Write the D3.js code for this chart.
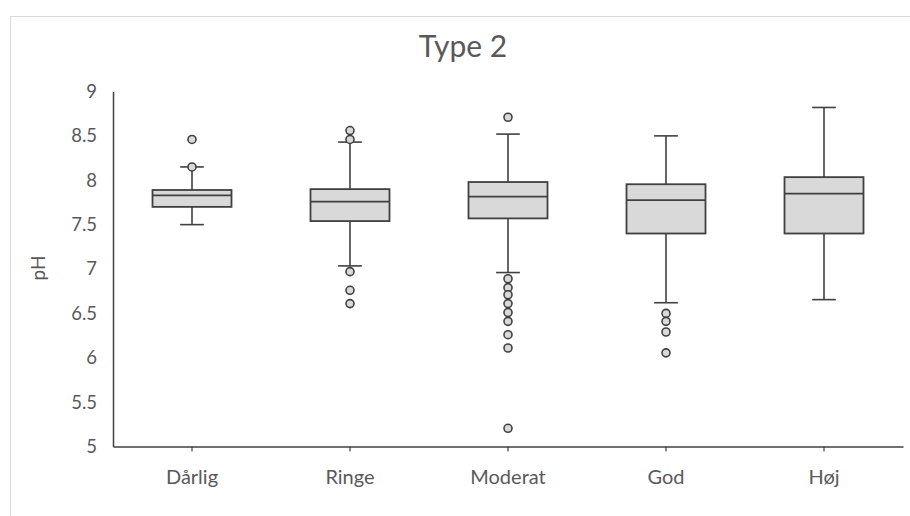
<!DOCTYPE html>
<html>
<head>
<meta charset="utf-8">
<script src="https://cdn.jsdelivr.net/npm/d3@7"></script>
<style>
  html, body { margin: 0; padding: 0; background: #fff; }
  svg { display: block; font-family: Lato, "Open Sans", sans-serif; }
</style>
</head>
<body>
<svg id="chart" width="910" height="516"></svg>
<script>
const title = "Type 2";
const yLabel = "pH";
const categories = ["Dårlig", "Ringe", "Moderat", "God", "Høj"];
const q1Values      = [7.70, 7.54, 7.57, 7.40, 7.40];
const medianValues  = [7.83, 7.76, 7.815, 7.775, 7.85];
const q3Values      = [7.89, 7.90, 7.98, 7.955, 8.035];
const lowWhisker    = [7.50, 7.035, 6.96, 6.62, 6.655];
const highWhisker   = [8.15, 8.43, 8.52, 8.50, 8.82];
const outliers = [
  [8.46, 8.15],
  [8.56, 8.46, 6.97, 6.76, 6.61],
  [8.71, 6.89, 6.79, 6.71, 6.61, 6.51, 6.41, 6.26, 6.11, 5.205],
  [6.50, 6.41, 6.29, 6.055],
  []
];
const yTicks = [5, 5.5, 6, 6.5, 7, 7.5, 8, 8.5, 9];

(function () {
const svg = d3.select("#chart");
const plotLeft = 113, plotRight = 903, plotTop = 91.5, plotBottom = 446.5;
const textColor = "#595959", lineColor = "#404040", fillColor = "#d9d9d9";

// chart border
svg.append("rect").attr("x", 10.5).attr("y", 16.5).attr("width", 920).attr("height", 520)
  .attr("fill", "none").attr("stroke", "#d9d9d9").attr("stroke-width", 1);

const x = d3.scaleBand().domain(categories).range([plotLeft, plotRight]).paddingInner(0).paddingOuter(0);
const y = d3.scaleLinear().domain([5, 9]).range([plotBottom, plotTop]);

const boxW = x.bandwidth() * 0.5;
const capW = x.bandwidth() * 0.15;

// title
svg.append("text").attr("x", 463).attr("y", 57).attr("text-anchor", "middle")
  .attr("font-size", 30).attr("fill", textColor).text(title);

// y axis
const yAxis = d3.axisLeft(y).tickValues(yTicks).tickSize(0).tickPadding(16)
  .tickFormat(d => String(d));
const gy = svg.append("g").attr("transform", `translate(${plotLeft},0)`).call(yAxis);
gy.select(".domain").attr("stroke", lineColor).attr("stroke-width", 1.5);
gy.selectAll("text").attr("font-size", 18.5).attr("fill", textColor).attr("font-family", "Lato, sans-serif");

// x axis
const xAxis = d3.axisBottom(x).tickSize(5).tickSizeOuter(0).tickPadding(18);
const gx = svg.append("g").attr("transform", `translate(0,${plotBottom})`).call(xAxis);
gx.select(".domain").attr("stroke", lineColor).attr("stroke-width", 1.5);
gx.selectAll(".tick line").attr("stroke", lineColor).attr("stroke-width", 1.2);
gx.selectAll("text").attr("font-size", 20).attr("fill", textColor).attr("font-family", "Lato, sans-serif");

// y label
svg.append("text").attr("transform", `translate(45,268) rotate(-90)`).attr("text-anchor", "middle")
  .attr("font-size", 19).attr("fill", textColor).text(yLabel);

const data = categories.map((c, i) => ({
  c, q1: q1Values[i], med: medianValues[i], q3: q3Values[i],
  lo: lowWhisker[i], hi: highWhisker[i], out: outliers[i]
}));

const g = svg.append("g");
data.forEach(d => {
  const cx = x(d.c) + x.bandwidth() / 2;
  // whiskers
  g.append("line").attr("x1", cx).attr("x2", cx).attr("y1", y(d.q3)).attr("y2", y(d.hi)).attr("stroke", lineColor).attr("stroke-width", 1.6);
  g.append("line").attr("x1", cx).attr("x2", cx).attr("y1", y(d.q1)).attr("y2", y(d.lo)).attr("stroke", lineColor).attr("stroke-width", 1.6);
  g.append("line").attr("x1", cx - capW / 2).attr("x2", cx + capW / 2).attr("y1", y(d.hi)).attr("y2", y(d.hi)).attr("stroke", lineColor).attr("stroke-width", 1.6);
  g.append("line").attr("x1", cx - capW / 2).attr("x2", cx + capW / 2).attr("y1", y(d.lo)).attr("y2", y(d.lo)).attr("stroke", lineColor).attr("stroke-width", 1.6);
  // box
  g.append("rect").attr("x", cx - boxW / 2).attr("width", boxW)
    .attr("y", y(d.q3)).attr("height", y(d.q1) - y(d.q3))
    .attr("fill", fillColor).attr("stroke", lineColor).attr("stroke-width", 1.8);
  g.append("line").attr("x1", cx - boxW / 2).attr("x2", cx + boxW / 2).attr("y1", y(d.med)).attr("y2", y(d.med))
    .attr("stroke", lineColor).attr("stroke-width", 1.8);
  // outliers
  g.selectAll(null).data(d.out).enter().append("circle")
    .attr("cx", cx).attr("cy", v => y(v)).attr("r", 4)
    .attr("fill", fillColor).attr("stroke", lineColor).attr("stroke-width", 1.6);
});
})();
</script>
</body>
</html>
